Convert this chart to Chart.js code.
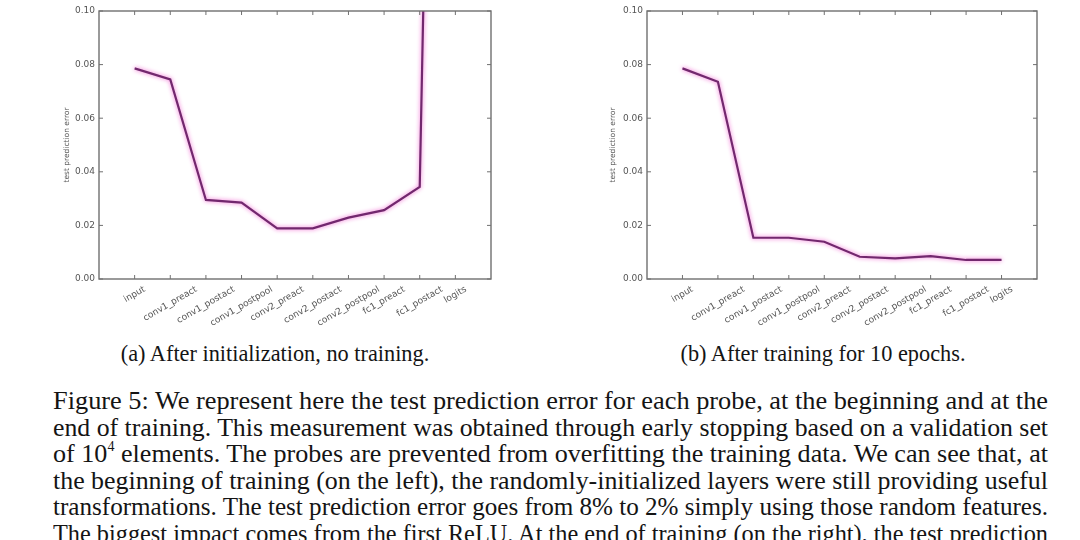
<!DOCTYPE html>
<html lang="en">
<head>
  <meta charset="UTF-8">
  <title>Figure 5 - probe test prediction error</title>
  <script src="https://cdn.jsdelivr.net/npm/chart.js"></script>
  <style>
    body {
      margin: 0;
      width: 1080px;
      height: 540px;
      overflow: hidden;
      position: relative;
      background: #fff;
      color: #141414;
      font-family: "Liberation Serif", "DejaVu Serif", serif;
    }
    .box { position: absolute; top: 0; width: 540px; height: 335px; }
    #boxA { left: 0; }
    #boxB { left: 540px; }
    .cap {
      position: absolute;
      top: 341px;
      font-size: 23px;
      white-space: nowrap;
      transform: translateX(-50%) scaleX(0.97);
    }
    .para {
      position: absolute;
      left: 53px;
      top: 388px;
      font-size: 26px;
      line-height: 26.6px;
    }
    /* each printed line is stretched to the full text width below */
    .para span {
      display: block;
      width: max-content;
      height: 26.6px;
      white-space: nowrap;
      transform-origin: 0 0;
    }
    sup { font-size: 14px; vertical-align: 11px; line-height: 0; }
  </style>
</head>
<body>
  <div class="box" id="boxA"><canvas id="chartA"></canvas></div>
  <div class="box" id="boxB"><canvas id="chartB"></canvas></div>

  <div class="cap" style="left:275px">(a) After initialization, no training.</div>
  <div class="cap" style="left:823px">(b) After training for 10 epochs.</div>

  <div class="para">
    <span>Figure 5: We represent here the test prediction error for each probe, at the beginning and at the</span>
    <span>end of training. This measurement was obtained through early stopping based on a validation set</span>
    <span>of 10<sup>4</sup> elements. The probes are prevented from overfitting the training data. We can see that, at</span>
    <span>the beginning of training (on the left), the randomly-initialized layers were still providing useful</span>
    <span>transformations. The test prediction error goes from 8% to 2% simply using those random features.</span>
    <span>The biggest impact comes from the first ReLU. At the end of training (on the right), the test prediction</span>
  </div>

  <script>
    // probe layers, in network order
    const layers = ['input', 'conv1_preact', 'conv1_postact', 'conv1_postpool', 'conv2_preact',
                    'conv2_postact', 'conv2_postpool', 'fc1_preact', 'fc1_postact', 'logits'];
    // (a) after initialization -- logits shoots off the top of the plot
    const errInit = [0.0786, 0.0745, 0.0295, 0.0285, 0.0189, 0.0189, 0.0229, 0.0257, 0.0344, 0.70];
    // (b) after 10 epochs
    const errTrained = [0.0786, 0.0736, 0.0154, 0.0154, 0.0139, 0.0083, 0.0077, 0.0085, 0.0071, 0.0071];
    const yTicks = [0.00, 0.02, 0.04, 0.06, 0.08, 0.10];

    const tickFont = { family: 'DejaVu Sans', size: 9 };
    const ANGLE = 30;
    const TEXT_WIDTH = 995;

    // justify the caption text: squeeze or stretch each line to the column width
    document.querySelectorAll('.para span').forEach(s => {
      const w = s.getBoundingClientRect().width;
      s.style.transform = 'scaleX(' + (TEXT_WIDTH / w) + ')';
    });

    // matplotlib centres rotated labels on the tick, chart.js hangs them off the end;
    // nudge each label right by half its rotated width
    const centreLabels = {
      id: 'centreLabels',
      beforeDraw(chart) {
        const x = chart.scales.x;
        const cos = Math.cos(ANGLE * Math.PI / 180);
        x.getLabelItems().forEach(item => {
          if (item._nudged) return;
          const ctx = chart.ctx;
          ctx.save();
          ctx.font = item.font.string;
          const w = ctx.measureText(item.label).width;
          ctx.restore();
          item.options.translation[0] += w * cos / 2;
          item._nudged = true;
        });
      }
    };

    // matplotlib style box with ticks pointing inward on every side
    const frame = {
      id: 'frame',
      afterDatasetsDraw(chart) {
        const { ctx, chartArea: a, scales: { x, y } } = chart;
        ctx.save();
        ctx.strokeStyle = '#707070';
        ctx.lineWidth = 1.4;
        ctx.strokeRect(a.left, a.top, a.right - a.left, a.bottom - a.top);
        ctx.lineWidth = 1;
        ctx.beginPath();
        x.ticks.forEach(t => {
          const px = x.getPixelForValue(t.value);
          ctx.moveTo(px, a.bottom); ctx.lineTo(px, a.bottom - 4);
          ctx.moveTo(px, a.top); ctx.lineTo(px, a.top + 4);
        });
        y.ticks.forEach(t => {
          const py = y.getPixelForValue(t.value);
          ctx.moveTo(a.left, py); ctx.lineTo(a.left + 4, py);
          ctx.moveTo(a.right, py); ctx.lineTo(a.right - 4, py);
        });
        ctx.stroke();
        ctx.restore();
      }
    };

    // soft pink halo around the line, like the blurry print
    const glow = {
      id: 'glow',
      beforeDatasetDraw(chart) {
        chart.ctx.save();
        chart.ctx.shadowColor = 'rgba(240, 90, 205, 0.95)';
        chart.ctx.shadowBlur = 4;
      },
      afterDatasetDraw(chart) {
        chart.ctx.restore();
      }
    };

    function makeChart(id, values, pad, yWidth) {
      return new Chart(document.getElementById(id), {
        type: 'line',
        data: {
          datasets: [{
            data: values.map((v, i) => ({ x: i, y: v })),
            borderColor: '#72286e',
            borderWidth: 2.2,
            pointRadius: 0,
            tension: 0
          }]
        },
        options: {
          responsive: true,
          maintainAspectRatio: false,
          animation: false,
          layout: { padding: pad },
          plugins: { legend: { display: false }, tooltip: { enabled: false } },
          scales: {
            x: {
              type: 'linear',
              min: -1,
              max: 10,
              grid: { display: false, drawTicks: false },
              border: { display: false },
              afterBuildTicks: s => { s.ticks = layers.map((_, i) => ({ value: i })); },
              afterFit: s => { s.height = 56; },
              ticks: {
                font: tickFont,
                color: '#555',
                padding: 5,
                minRotation: ANGLE,
                maxRotation: ANGLE,
                autoSkip: false,
                callback: v => layers[v]
              }
            },
            y: {
              min: 0,
              max: 0.1,
              grid: { display: false, drawTicks: false },
              border: { display: false },
              afterBuildTicks: s => { s.ticks = yTicks.map(v => ({ value: v })); },
              afterFit: s => { s.width = yWidth; },
              title: {
                display: true,
                text: 'test prediction error',
                color: '#555',
                font: { family: 'DejaVu Sans', size: 7.5 },
                padding: 0
              },
              ticks: {
                font: tickFont,
                color: '#555',
                padding: 4,
                callback: v => v.toFixed(2)
              }
            }
          }
        },
        plugins: [centreLabels, frame, glow]
      });
    }

    makeChart('chartA', errInit, { left: 63, top: 11, right: 49, bottom: 0 }, 36);
    makeChart('chartB', errTrained, { left: 69, top: 11, right: 43, bottom: 0 }, 38);
  </script>
</body>
</html>
